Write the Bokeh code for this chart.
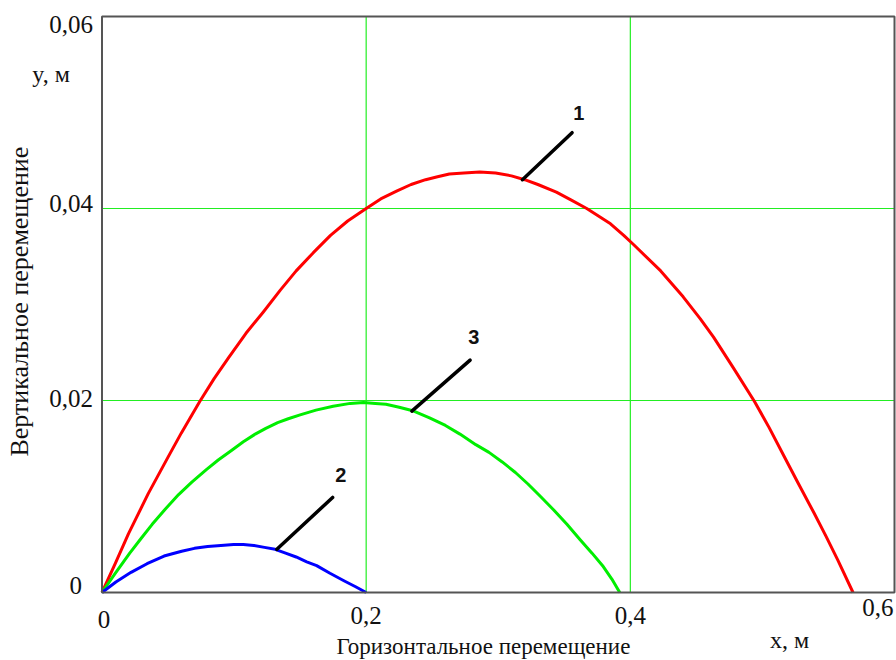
from math import pi

from bokeh.plotting import figure
from bokeh.models import Range1d
from bokeh.core.properties import value
from bokeh.embed import file_html
from bokeh.resources import INLINE

# Trajectory 1 (red)
x1 = [0.0, 0.010, 0.020, 0.035, 0.050, 0.060, 0.074, 0.085, 0.096, 0.109, 0.122,
      0.135, 0.147, 0.160, 0.173, 0.186, 0.200, 0.211, 0.223, 0.234, 0.245, 0.254,
      0.263, 0.274, 0.286, 0.298, 0.310, 0.320, 0.330, 0.344, 0.355, 0.367, 0.385,
      0.395, 0.402, 0.423, 0.440, 0.453, 0.463, 0.478, 0.494, 0.505, 0.516, 0.527,
      0.539, 0.548, 0.557, 0.5686]
y1 = [0.0, 0.0030, 0.0061, 0.0103, 0.0141, 0.0166, 0.0199, 0.0223, 0.0245, 0.0270, 0.0292,
      0.0315, 0.0335, 0.0354, 0.0372, 0.0387, 0.0400, 0.0410, 0.0418, 0.0425, 0.0430, 0.0433,
      0.0436, 0.0437, 0.0438, 0.0437, 0.0434, 0.0430, 0.0425, 0.0417, 0.0409, 0.0400, 0.0384,
      0.0372, 0.0363, 0.0335, 0.0308, 0.0285, 0.0266, 0.0234, 0.0199, 0.0172, 0.0143, 0.0114,
      0.0083, 0.0059, 0.0034, 0.0]

# Trajectory 2 (blue)
x2 = [0.0, 0.0105, 0.022, 0.0341, 0.047, 0.0603, 0.070, 0.080, 0.090, 0.0996, 0.107,
      0.115, 0.123, 0.1311, 0.139, 0.147, 0.155, 0.1625, 0.1726, 0.1835, 0.192, 0.200]
y2 = [0.0, 0.0011, 0.0021, 0.0030, 0.0038, 0.0043, 0.0046, 0.0048, 0.0049, 0.0050, 0.0050,
      0.0049, 0.0047, 0.0045, 0.0041, 0.0037, 0.0032, 0.0028, 0.0020, 0.0012, 0.0006, 0.0]

# Trajectory 3 (green)
x3 = [0.0, 0.010, 0.021, 0.030, 0.038, 0.048, 0.058, 0.068, 0.079, 0.088, 0.098, 0.107,
      0.116, 0.124, 0.133, 0.141, 0.150, 0.162, 0.175, 0.188, 0.198, 0.207, 0.215, 0.225,
      0.236, 0.248, 0.260, 0.271, 0.283, 0.293, 0.303, 0.313, 0.3225, 0.332, 0.342, 0.352,
      0.362, 0.371, 0.3795, 0.386, 0.392]
y3 = [0.0, 0.0020, 0.0041, 0.0057, 0.0071, 0.0087, 0.0102, 0.0115, 0.0128, 0.0138, 0.0148,
      0.0157, 0.0165, 0.0171, 0.0177, 0.0181, 0.0185, 0.0190, 0.0194, 0.0197, 0.0198, 0.0197,
      0.0196, 0.0193, 0.0189, 0.0182, 0.0174, 0.0165, 0.0154, 0.0146, 0.0136, 0.0125, 0.0113,
      0.0100, 0.0086, 0.0071, 0.0055, 0.0041, 0.0027, 0.0014, 0.0]

# Curve numbers and their leader lines
tag_text = ["1", "2", "3"]
tag_x = [0.3609, 0.1808, 0.2815]
tag_y = [0.0492, 0.0115, 0.0259]
lead_x0 = [0.3559, 0.1746, 0.2787]
lead_y0 = [0.0479, 0.0099, 0.0242]
lead_x1 = [0.3183, 0.1324, 0.2346]
lead_y1 = [0.0430, 0.0045, 0.0189]

# Axis limits, ticks and grid
x_min, x_max = 0.0, 0.6
y_min, y_max = 0.0, 0.06
x_ticks = [0.0, 0.2, 0.4, 0.6]
x_tick_labels = ["0", "0,2", "0,4", "0,6"]
y_ticks = [0.0, 0.02, 0.04, 0.06]
y_tick_labels = ["0", "0,02", "0,04", "0,06"]
grid_x = [0.2, 0.4]
grid_y = [0.02, 0.04]

# Canvas layout (pixels): plot box edges inside the 896x660 page
W, H = 896, 660
BOX_L, BOX_R, BOX_T, BOX_B = 101.5, 894.0, 16.0, 592.0
sx = (BOX_R - BOX_L) / (x_max - x_min)
sy = (BOX_B - BOX_T) / (y_max - y_min)

SERIF = "Liberation Serif"
INK = "#111111"
LIFT = -8      # raise serif texts so their baseline sits where intended
LIFT_TAG = -7

p = figure(width=W, height=H,
           x_range=Range1d(x_min - BOX_L / sx, x_max + (W - BOX_R) / sx),
           y_range=Range1d(y_min - (H - BOX_B) / sy, y_max + BOX_T / sy),
           output_backend="svg", toolbar_location=None,
           min_border=0)
p.axis.visible = False
p.grid.visible = False
p.outline_line_color = None
p.background_fill_color = "white"
p.border_fill_color = "white"

# grid lines inside the box
p.segment(grid_x, [y_min] * len(grid_x), grid_x, [y_max] * len(grid_x),
          line_color="#22ee22", line_width=1.2)
p.segment([x_min] * len(grid_y), grid_y, [x_max] * len(grid_y), grid_y,
          line_color="#22ee22", line_width=1.2)

# trajectories
p.line(x1, y1, line_color="#ff0000", line_width=3, line_join="round")
p.line(x3, y3, line_color="#00ee00", line_width=3, line_join="round")
p.line(x2, y2, line_color="#0000ff", line_width=3, line_join="round")

# plot box
p.quad(left=[x_min], right=[x_max], bottom=[y_min], top=[y_max],
       fill_color=None, line_color="#555555", line_width=2)

# leader lines and curve numbers
p.segment(lead_x0, lead_y0, lead_x1, lead_y1, line_color="black", line_width=3.5,
          line_cap="round")
p.text(tag_x, tag_y, text=tag_text, y_offset=LIFT_TAG,
       text_align="center", text_baseline="alphabetic",
       text_font=value("Liberation Sans"), text_font_style="bold",
       text_font_size="20px", text_color=INK)

# y tick labels (outer ones are pulled inside the box extent)
y_lab_dx = [-20, -9, -9, -9]
y_lab_dy = [1, 6, 3, 16]
for t, v, dx, dy in zip(y_tick_labels, y_ticks, y_lab_dx, y_lab_dy):
    p.text([x_min], [v], text=[t], x_offset=dx, y_offset=dy + LIFT,
           text_align="right", text_baseline="alphabetic",
           text_font=value(SERIF), text_font_size="25px", text_color=INK)

# x tick labels
x_lab_dx = [2, 0, 0, -1]
x_lab_dy = [35, 31, 31, 23]
x_lab_align = ["center", "center", "center", "right"]
for t, v, dx, dy, al in zip(x_tick_labels, x_ticks, x_lab_dx, x_lab_dy, x_lab_align):
    p.text([v], [y_min], text=[t], x_offset=dx, y_offset=dy + LIFT,
           text_align=al, text_baseline="alphabetic",
           text_font=value(SERIF), text_font_size="25px", text_color=INK)

# axis titles
p.text([0.2888], [-0.00646], text=["Горизонтальное перемещение"], y_offset=LIFT,
       text_align="center", text_baseline="alphabetic",
       text_font=value(SERIF), text_font_size="23px", text_color=INK)
p.text([0.5205], [-0.00583], text=["x, м"], y_offset=LIFT,
       text_align="center", text_baseline="alphabetic",
       text_font=value(SERIF), text_font_size="24px", text_color=INK)
p.text([-0.0386], [0.05313], text=["y, м"], y_offset=LIFT,
       text_align="center", text_baseline="alphabetic",
       text_font=value(SERIF), text_font_size="24px", text_color=INK)
p.text([-0.0564], [0.0303], text=["Вертикальное перемещение"], angle=pi / 2,
       x_offset=LIFT, text_align="center", text_baseline="alphabetic",
       text_font=value(SERIF), text_font_size="26px", text_color=INK)

open("out.html", "w").write(file_html(p, INLINE))
